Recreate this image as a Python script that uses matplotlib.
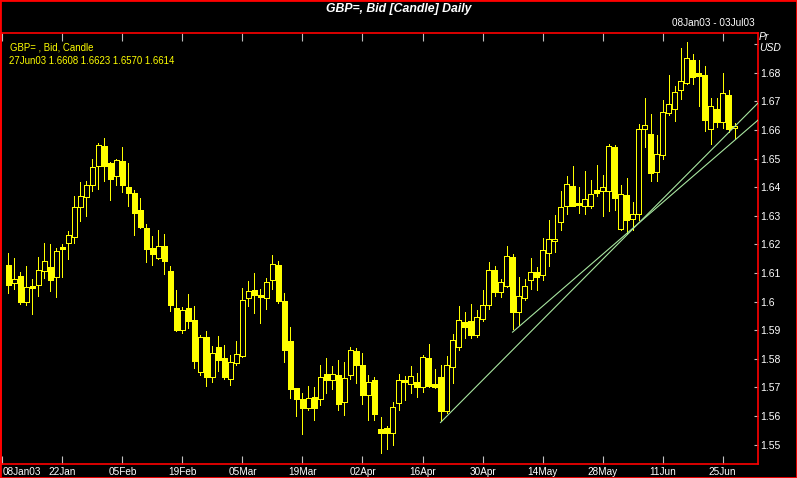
import numpy as np
import matplotlib
matplotlib.use("Agg")
from matplotlib import pyplot as plt
from matplotlib.patches import Rectangle

# GBP= daily candles, 09Jan03 .. 27Jun03
opens = [1.6128, 1.6066, 1.6090, 1.6000, 1.6055, 1.6057, 1.6106, 1.6121, 1.6085, 1.6189,
         1.6204, 1.6225, 1.6330, 1.6367, 1.6409, 1.6475, 1.6544, 1.6485, 1.6438, 1.6492,
         1.6401, 1.6380, 1.6320, 1.6257, 1.6187, 1.6154, 1.6194, 1.6107, 1.5977, 1.5900,
         1.5977, 1.5935, 1.5755, 1.5876, 1.5737, 1.5841, 1.5802, 1.5728, 1.5786, 1.5811,
         1.6013, 1.6040, 1.6023, 1.6013, 1.6076, 1.6128, 1.6002, 1.5862, 1.5697, 1.5659,
         1.5629, 1.5666, 1.5661, 1.5746, 1.5726, 1.5743, 1.5650, 1.5744, 1.5827, 1.5778,
         1.5674, 1.5725, 1.5554, 1.5557, 1.5541, 1.5646, 1.5725, 1.5710, 1.5718, 1.5702,
         1.5802, 1.5711, 1.5736, 1.5618, 1.5772, 1.5842, 1.5928, 1.5932, 1.5884, 1.5938,
         1.5989, 1.6110, 1.6034, 1.6055, 1.6156, 1.5964, 1.6013, 1.6076, 1.6105, 1.6094,
         1.6169, 1.6211, 1.6277, 1.6335, 1.6404, 1.6345, 1.6335, 1.6335, 1.6390, 1.6388,
         1.6387, 1.6540, 1.6253, 1.6373, 1.6290, 1.6305, 1.6602, 1.6585, 1.6453, 1.6513,
         1.6660, 1.6674, 1.6740, 1.6765, 1.6844, 1.6799, 1.6792, 1.6602, 1.6673, 1.6628,
         1.6722, 1.6608]
highs = [1.6169, 1.6152, 1.6104, 1.6124, 1.6079, 1.6156, 1.6205, 1.6201, 1.6187, 1.6201,
         1.6246, 1.6369, 1.6418, 1.6422, 1.6499, 1.6555, 1.6572, 1.6487, 1.6499, 1.6541,
         1.6486, 1.6390, 1.6362, 1.6271, 1.6229, 1.6250, 1.6236, 1.6124, 1.6040, 1.5980,
         1.6026, 1.5984, 1.5882, 1.5897, 1.5844, 1.5878, 1.5848, 1.5813, 1.5862, 1.6047,
         1.6072, 1.6100, 1.6044, 1.6082, 1.6163, 1.6142, 1.6030, 1.5911, 1.5699, 1.5682,
         1.5704, 1.5701, 1.5778, 1.5802, 1.5774, 1.5795, 1.5788, 1.5841, 1.5837, 1.5820,
         1.5743, 1.5736, 1.5596, 1.5564, 1.5648, 1.5746, 1.5739, 1.5774, 1.5750, 1.5813,
         1.5851, 1.5764, 1.5778, 1.5809, 1.5886, 1.5984, 1.5963, 1.5991, 1.5970, 1.6040,
         1.6140, 1.6124, 1.6079, 1.6194, 1.6166, 1.6086, 1.6079, 1.6152, 1.6121, 1.6221,
         1.6285, 1.6303, 1.6387, 1.6439, 1.6474, 1.6401, 1.6457, 1.6425, 1.6476, 1.6443,
         1.6550, 1.6549, 1.6408, 1.6432, 1.6348, 1.6620, 1.6711, 1.6655, 1.6582, 1.6704,
         1.6792, 1.6753, 1.6886, 1.6907, 1.6865, 1.6844, 1.6823, 1.6711, 1.6711, 1.6799,
         1.6739, 1.6623]
lows = [1.6031, 1.6045, 1.5993, 1.5989, 1.5958, 1.6021, 1.6084, 1.6038, 1.6017, 1.6087,
        1.6150, 1.6206, 1.6280, 1.6300, 1.6388, 1.6395, 1.6423, 1.6356, 1.6408, 1.6384,
        1.6335, 1.6234, 1.6257, 1.6140, 1.6129, 1.6150, 1.6098, 1.5968, 1.5898, 1.5891,
        1.5907, 1.5767, 1.5744, 1.5706, 1.5720, 1.5758, 1.5730, 1.5709, 1.5779, 1.5807,
        1.5984, 1.5961, 1.5926, 1.5974, 1.6045, 1.5996, 1.5789, 1.5664, 1.5601, 1.5538,
        1.5622, 1.5587, 1.5639, 1.5681, 1.5695, 1.5622, 1.5604, 1.5730, 1.5716, 1.5642,
        1.5587, 1.5587, 1.5469, 1.5485, 1.5499, 1.5622, 1.5657, 1.5681, 1.5667, 1.5685,
        1.5702, 1.5699, 1.5583, 1.5611, 1.5716, 1.5831, 1.5871, 1.5872, 1.5877, 1.5933,
        1.5974, 1.6019, 1.6016, 1.6052, 1.5903, 1.5918, 1.6005, 1.6044, 1.6040, 1.6075,
        1.6126, 1.6174, 1.6250, 1.6306, 1.6334, 1.6310, 1.6306, 1.6328, 1.6369, 1.6299,
        1.6316, 1.6319, 1.6250, 1.6235, 1.6250, 1.6284, 1.6541, 1.6422, 1.6422, 1.6497,
        1.6652, 1.6632, 1.6708, 1.6760, 1.6760, 1.6683, 1.6597, 1.6551, 1.6609, 1.6607,
        1.6593, 1.6570]
closes = [1.6058, 1.6078, 1.6000, 1.6050, 1.6049, 1.6109, 1.6141, 1.6077, 1.6176, 1.6185,
          1.6232, 1.6330, 1.6368, 1.6407, 1.6470, 1.6546, 1.6475, 1.6430, 1.6494, 1.6409,
          1.6381, 1.6311, 1.6261, 1.6185, 1.6168, 1.6194, 1.6143, 1.5989, 1.5900, 1.5970,
          1.5933, 1.5793, 1.5875, 1.5737, 1.5819, 1.5797, 1.5737, 1.5787, 1.5815, 1.6004,
          1.6037, 1.6024, 1.6017, 1.6070, 1.6133, 1.6003, 1.5831, 1.5695, 1.5660, 1.5629,
          1.5662, 1.5629, 1.5736, 1.5726, 1.5745, 1.5642, 1.5732, 1.5830, 1.5779, 1.5674,
          1.5717, 1.5608, 1.5541, 1.5541, 1.5630, 1.5725, 1.5720, 1.5738, 1.5702, 1.5806,
          1.5706, 1.5702, 1.5618, 1.5778, 1.5865, 1.5935, 1.5912, 1.5884, 1.5945, 1.5987,
          1.6112, 1.6033, 1.6067, 1.6159, 1.5964, 1.6018, 1.6053, 1.6105, 1.6087, 1.6179,
          1.6219, 1.6219, 1.6330, 1.6410, 1.6335, 1.6339, 1.6359, 1.6376, 1.6381, 1.6401,
          1.6543, 1.6363, 1.6376, 1.6286, 1.6306, 1.6602, 1.6619, 1.6450, 1.6515, 1.6662,
          1.6690, 1.6732, 1.6771, 1.6853, 1.6786, 1.6789, 1.6634, 1.6683, 1.6627, 1.6729,
          1.6603, 1.6614]

tick_pos = list(range(0, 121, 10))
tick_labels = ["08Jan03", "22Jan", "05Feb", "19Feb", "05Mar", "19Mar", "02Apr",
               "16Apr", "30Apr", "14May", "28May", "11Jun", "25Jun"]
price_ticks = [1.55, 1.56, 1.57, 1.58, 1.59, 1.60, 1.61, 1.62, 1.63, 1.64, 1.65, 1.66, 1.67, 1.68, 1.69]

# the two trend lines drawn on the chart
trend_x = [[73, 126], [85, 126]]
trend_y = [[1.5577, 1.6696], [1.5893, 1.6636]]

YELLOW = '#ffff00'
W, H = 797, 478

plt.rcParams['font.family'] = ['Liberation Sans', 'DejaVu Sans']

fig = plt.figure(figsize=(W / 100, H / 100), dpi=100)
fig.set_facecolor('black')
ax = fig.add_axes([0.5 / W, 14 / H, 757 / W, 431 / H])
ax.set_facecolor('black')

days = np.arange(1, len(opens) + 1)
o = np.array(opens)
c = np.array(closes)
up = c >= o

ax.vlines(days, lows, highs, color=YELLOW, lw=0.72, zorder=2, antialiased=False)
ax.bar(days, np.maximum(np.abs(c - o), 0.00006), bottom=np.minimum(o, c), width=0.72,
       color=np.where(up, 'black', YELLOW), edgecolor=YELLOW, lw=0.72, zorder=3,
       antialiased=False)

for xs, ys in zip(trend_x, trend_y):
    ax.plot(xs, ys, color='#a8e6a0', lw=0.8, zorder=4)

ax.set_xlim(-0.33, 125.83)
ax.set_ylim(1.5432, 1.6939)

for s in ax.spines.values():
    s.set_color('red')
    s.set_linewidth(1.2)

ax.set_xticks(tick_pos)
ax.set_xticklabels(tick_labels, color='white', fontsize=7.2)
ax.get_xticklabels()[0].set_ha('left')
ax.tick_params(axis='x', direction='in', length=6, color='#c0c0c0', top=True, bottom=True, pad=2)

ax.yaxis.tick_right()
ax.set_yticks(price_ticks)
ax.set_yticklabels(['%g' % p for p in price_ticks[:-1]] + [''], color='white', fontsize=7.5)
ax.tick_params(axis='y', direction='in', length=3, color='#c0c0c0', pad=2, left=False, right=True)

fig.text(398.5 / W, 1 - 9 / H, 'GBP=, Bid [Candle] Daily', color='white', fontsize=8.8,
         fontweight='bold', fontstyle='italic', ha='center', va='center')
fig.text(755 / W, 1 - 23 / H, '08Jan03 - 03Jul03', color='white', fontsize=7.2, ha='right', va='center')
fig.text(759 / W, 1 - 37 / H, 'Pr', color='white', fontsize=7.5, fontstyle='italic', va='center')
fig.text(759 / W, 1 - 48 / H, 'USD', color='white', fontsize=7.5, fontstyle='italic', va='center')
fig.text(10 / W, 1 - 47.5 / H, 'GBP= , Bid, Candle', color=YELLOW, fontsize=6.9, va='center')
fig.text(9 / W, 1 - 60.5 / H, '27Jun03 1.6608 1.6623 1.6570 1.6614', color=YELLOW, fontsize=6.9, va='center')

fig.patches.append(Rectangle((0, 0), 1, 1, transform=fig.transFigure, fill=False,
                             edgecolor='red', lw=2))

fig.savefig('out.png', dpi=100, facecolor='black')
